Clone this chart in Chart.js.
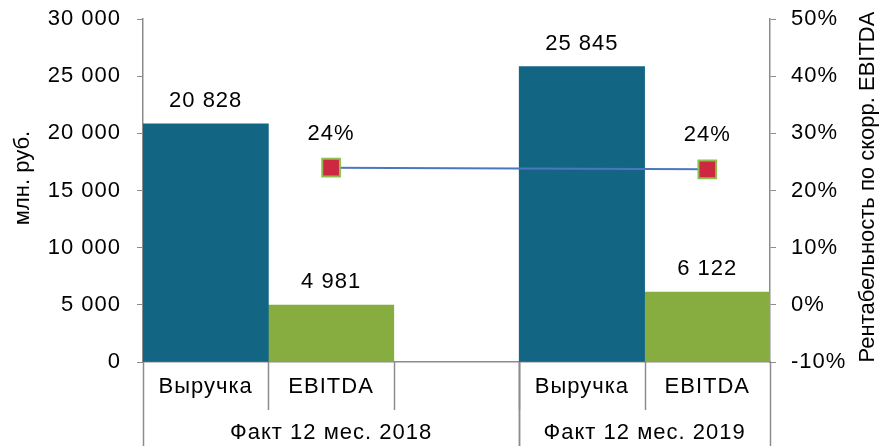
<!DOCTYPE html>
<html>
<head>
<meta charset="utf-8">
<script src="https://cdn.jsdelivr.net/npm/chart.js@4"></script>
<style>
  body { margin: 0; background: #fff; }
  canvas { display: block; }
</style>
</head>
<body>
<canvas id="finChart" width="883" height="446"></canvas>
<script>
const groupLabels = ["Факт 12 мес. 2018", "Факт 12 мес. 2019"];
const groupSizes = [3, 2];
const categories = ["Выручка", "EBITDA", "", "Выручка", "EBITDA"];
const revenue = [20828, 25845];
const ebitda = [4981, 6122];
const margin = [24.0, 23.7];
const leftTicks = [0, 5000, 10000, 15000, 20000, 25000, 30000];
const rightTicks = [-10, 0, 10, 20, 30, 40, 50];

const FONT = "'Liberation Sans', Arial, sans-serif";
const FSIZE = 22;
const AXIS_GREY = "#8c8c8c";

// spread the per-group values over the category slots
function toSlots(values, slotIndex) {
  const out = categories.map(() => null);
  let start = 0;
  groupSizes.forEach((size, g) => {
    out[start + slotIndex] = values[g];
    start += size;
  });
  return out;
}

function fmt(n) {
  return String(n).replace(/\B(?=(\d{3})+(?!\d))/g, " ");
}

const labelsPlugin = {
  id: "labelsPlugin",
  beforeUpdate(chart) { chart.ctx.letterSpacing = "1px"; },
  beforeDraw(chart) { chart.ctx.letterSpacing = "1px"; },
  afterDatasetsDraw(chart) {
    const c = chart.ctx;
    c.save();
    c.fillStyle = "#000";
    c.font = FSIZE + "px " + FONT;
    c.textAlign = "center";
    c.textBaseline = "middle";
    chart.data.datasets.forEach((ds, i) => {
      const meta = chart.getDatasetMeta(i);
      meta.data.forEach((el, j) => {
        const v = ds.data[j];
        if (v === null || v === undefined) return;
        if (ds.type === "line") {
          c.fillText(Math.round(v) + "%", el.x, el.y - 34);
        } else {
          c.fillText(fmt(v), el.x, el.y - 23);
        }
      });
    });
    c.restore();
  },
  afterDraw(chart) {
    const c = chart.ctx;
    const x = chart.scales.x;
    const area = chart.chartArea;
    const H = chart.height;
    c.save();
    c.strokeStyle = AXIS_GREY;
    c.lineWidth = 1.5;
    const half = (x.getPixelForTick(1) - x.getPixelForTick(0)) / 2;
    // short dividers between categories
    for (let i = 1; i < categories.length; i++) {
      const px = Math.round(x.getPixelForTick(i) - half) + 0.5;
      c.beginPath();
      c.moveTo(px, area.bottom);
      c.lineTo(px, area.bottom + 48);
      c.stroke();
    }
    // group dividers and group labels
    c.fillStyle = "#000";
    c.font = FSIZE + "px " + FONT;
    c.textAlign = "center";
    c.textBaseline = "middle";
    let start = 0;
    const edges = [];
    groupSizes.forEach((size, g) => {
      const x0 = x.getPixelForTick(start) - half;
      const x1 = x.getPixelForTick(start + size - 1) + half;
      edges.push(x0, x1);
      c.fillText(groupLabels[g], (x0 + x1) / 2, area.bottom + 71);
      start += size;
    });
    edges.forEach((e) => {
      const px = Math.round(e) + 0.5;
      c.beginPath();
      c.moveTo(px, area.bottom);
      c.lineTo(px, H);
      c.stroke();
    });
    // axis titles, both reading bottom to top
    c.letterSpacing = "0px";
    c.save();
    c.translate(23, 178);
    c.rotate(-Math.PI / 2);
    c.fillText("млн. руб.", 0, 0);
    c.restore();
    c.translate(868, 187);
    c.rotate(-Math.PI / 2);
    c.fillText("Рентабельность по скорр. EBITDA", 0, 0);
    c.restore();
  },
};

const ctx = document.getElementById("finChart").getContext("2d");
const tickFont = { size: FSIZE, family: FONT };
const finChart = new Chart(ctx, {
  data: {
    labels: categories,
    datasets: [
      {
        type: "line",
        label: "Рентабельность",
        data: toSlots(margin, 1),
        yAxisID: "y1",
        borderColor: "#4a78c0",
        borderWidth: 2,
        spanGaps: true,
        pointStyle: "rect",
        pointRadius: 12.5,
        pointBackgroundColor: "#cc2842",
        pointBorderColor: "#90bd4c",
        pointBorderWidth: 2,
        order: 0,
      },
      {
        type: "bar",
        label: "Выручка",
        data: toSlots(revenue, 0),
        backgroundColor: "#126684",
        grouped: false,
        barPercentage: 1,
        categoryPercentage: 1,
        order: 1,
      },
      {
        type: "bar",
        label: "EBITDA",
        data: toSlots(ebitda, 1),
        backgroundColor: "#87ad40",
        grouped: false,
        barPercentage: 1,
        categoryPercentage: 1,
        order: 1,
      },
    ],
  },
  options: {
    responsive: false,
    animation: false,
    layout: { autoPadding: false, padding: { top: 19 } },
    scales: {
      x: {
        offset: true,
        grid: { display: true, drawOnChartArea: false, drawTicks: false, color: AXIS_GREY },
        border: { color: AXIS_GREY, width: 1.5 },
        ticks: { color: "#000", font: tickFont, padding: 12, maxRotation: 0, autoSkip: false },
        afterFit: (s) => { s.height = 84; },
      },
      y: {
        position: "left",
        min: leftTicks[0],
        max: leftTicks[leftTicks.length - 1],
        afterBuildTicks: (s) => { s.ticks = leftTicks.map((v) => ({ value: v })); },
        grid: { drawOnChartArea: false, tickLength: 6, color: AXIS_GREY },
        border: { color: AXIS_GREY, width: 1.5 },
        ticks: { color: "#000", font: tickFont, padding: 16, callback: (v) => fmt(v) },
        afterFit: (s) => { s.width = 143; s.paddingTop = 0; s.paddingBottom = 0; },
      },
      y1: {
        position: "right",
        min: rightTicks[0],
        max: rightTicks[rightTicks.length - 1],
        afterBuildTicks: (s) => { s.ticks = rightTicks.map((v) => ({ value: v })); },
        grid: { drawOnChartArea: false, tickLength: 6, color: AXIS_GREY },
        border: { color: AXIS_GREY, width: 1.5 },
        ticks: { color: "#000", font: tickFont, padding: 15, callback: (v) => v + "%" },
        afterFit: (s) => { s.width = 113; s.paddingTop = 0; s.paddingBottom = 0; },
      },
    },
    plugins: {
      legend: { display: false },
      tooltip: { enabled: false },
    },
  },
  plugins: [labelsPlugin],
});
</script>
</body>
</html>
